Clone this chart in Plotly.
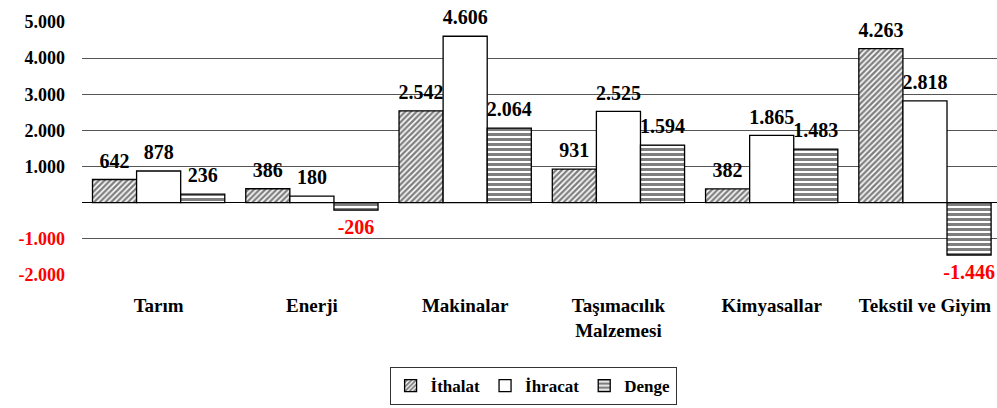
import plotly.graph_objects as go

categories = ["Tarım", "Enerji", "Makinalar", "Taşımacılık<br>Malzemesi", "Kimyasallar", "Tekstil ve Giyim"]
ithalat = [642, 386, 2542, 931, 382, 4263]
ihracat = [878, 180, 4606, 2525, 1865, 2818]
denge = [236, -206, 2064, 1594, 1483, -1446]
y_ticks = [-2000, -1000, 0, 1000, 2000, 3000, 4000, 5000]
y_tick_text = ["-2.000", "-1.000", "", "1.000", "2.000", "3.000", "4.000", "5.000"]

FONT = "Liberation Serif, Times New Roman, serif"
LABEL_SIZE = 20

def label_colors(vals):
    return ["red" if v < 0 else "black" for v in vals]

def label_templates(vals):
    main = f"<span style='font-size:{LABEL_SIZE}px'><b>%{{y:,.0f}}</b></span>"
    pad = "<span style='color:rgba(0,0,0,0)'>.</span>"
    return [(pad + "<br>" + pad + "<br>" + main) if v < 0 else (main + "<br>" + pad) for v in vals]

def tick_label(v, t):
    if v < 0:
        return f"<b><span style='color:red'>{t}</span></b>"
    return f"<b>{t}</b>"

LINE = dict(color="black", width=1.3)

def bar(name, vals, pattern=None):
    marker = dict(color="white", line=LINE)
    if pattern:
        marker["pattern"] = pattern
    return go.Bar(
        name=f"<b>{name}</b>", x=categories, y=vals,
        marker=marker,
        texttemplate=label_templates(vals), textposition="outside",
        textfont=dict(family=FONT, size=6, color=label_colors(vals)),
        constraintext="none",
        cliponaxis=False,
    )

fig = go.Figure()
fig.add_trace(bar("İthalat", ithalat,
                  dict(shape="/", fgcolor="black", bgcolor="white", size=4, solidity=0.6)))
fig.add_trace(bar("İhracat", ihracat))
fig.add_trace(bar("Denge", denge,
                  dict(shape="-", fgcolor="black", bgcolor="white", size=5, solidity=0.6)))

fig.update_layout(
    width=997, height=408,
    margin=dict(l=82, r=0, t=22, b=133, autoexpand=False),
    paper_bgcolor="white", plot_bgcolor="white",
    separators=",.",
    barmode="group", bargap=0.137, bargroupgap=0,
    font=dict(family=FONT, size=19, color="black"),
    showlegend=True,
    legend=dict(
        orientation="h", x=0.493, xanchor="center", y=-0.439, yanchor="middle",
        bordercolor="#333", borderwidth=1,
        font=dict(family=FONT, size=17, color="black"),
        itemwidth=30, tracegroupgap=0,
    ),
    xaxis=dict(
        range=[-0.5, 5.47],
        showgrid=False, showline=False, ticks="", automargin=False,
        tickfont=dict(family=FONT, size=19, color="black"),
        ticklabelstandoff=17,
        tickvals=list(range(len(categories))),
        ticktext=[f"<b>{c}</b>" for c in categories],
    ),
    yaxis=dict(
        range=[-2000, 5000],
        tickvals=y_ticks,
        ticktext=[tick_label(v, t) for v, t in zip(y_ticks, y_tick_text)],
        showgrid=True, gridcolor="#555", gridwidth=1,
        zeroline=True, zerolinecolor="black", zerolinewidth=1,
        showline=False, ticks="", automargin=False,
        tickfont=dict(family=FONT, size=18, color="black"),
        ticklabelstandoff=16,
    ),
)

fig.write_html("out.html", config={"displayModeBar": False},
               post_script="document.body.style.margin='0';")
